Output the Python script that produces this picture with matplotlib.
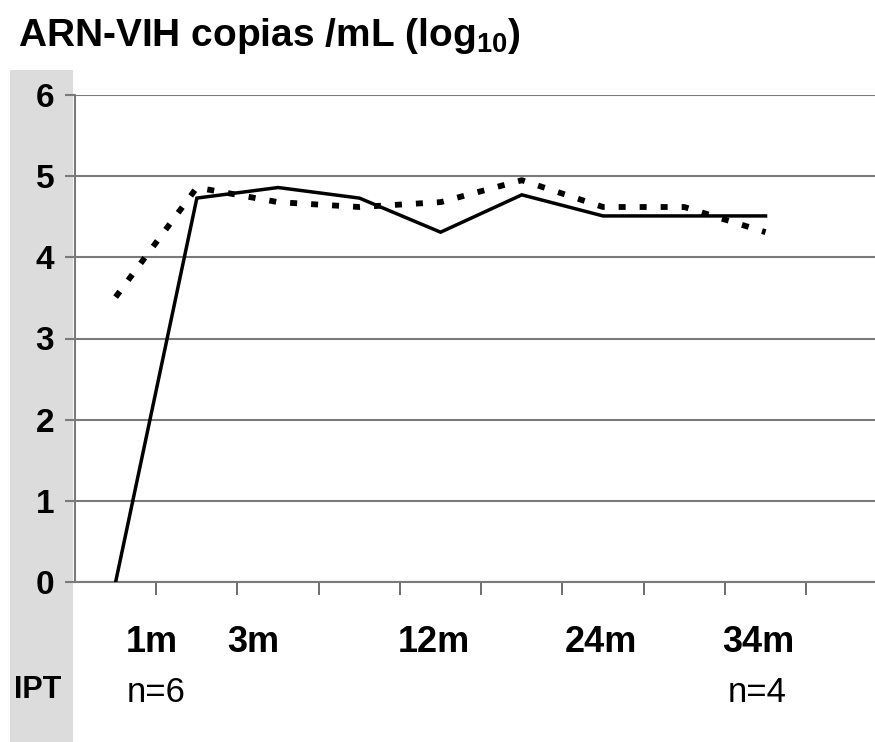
import matplotlib
matplotlib.use("Agg")
import matplotlib.pyplot as plt
import matplotlib.transforms as mtransforms
from matplotlib.patches import Rectangle

# values (log10 copies/mL)
positions = [0, 1, 2, 3, 4, 5, 6, 7, 8]
solid_vals = [0.0, 4.73, 4.86, 4.73, 4.31, 4.77, 4.51, 4.51, 4.51]
dotted_vals = [3.51, 4.86, 4.68, 4.62, 4.68, 4.95, 4.62, 4.62, 4.31]
yticks = [0, 1, 2, 3, 4, 5, 6]
month_labels = ["1m", "3m", "12m", "24m", "34m"]
month_x = [0.44, 1.69, 3.92, 5.97, 7.91]
n_labels = ["n=6", "n=4"]
n_x = [0.50, 7.90]

plt.rcParams["font.family"] = ["Liberation Sans", "DejaVu Sans"]
plt.rcParams["mathtext.fontset"] = "custom"
plt.rcParams["mathtext.rm"] = "Liberation Sans:bold"
plt.rcParams["mathtext.it"] = "Liberation Sans:bold"
plt.rcParams["mathtext.bf"] = "Liberation Sans:bold"

W, H = 875, 742
fig = plt.figure(figsize=(W / 100, H / 100), dpi=100)

# grey band on the left
fig.patches.append(Rectangle((10 / W, 0), 63 / W, (H - 70) / H,
                             transform=fig.transFigure, facecolor="#dcdcdc",
                             edgecolor="none", zorder=-5))

ax = fig.add_axes([75 / W, 1 - 582 / H, (W - 75) / W, (582 - 95) / H])
ax.set_facecolor("none")
ax.set_zorder(2)

ax.plot(positions, solid_vals, color="black", lw=2.5, zorder=3,
        solid_joinstyle="miter")
ax.plot(positions, dotted_vals, color="black", lw=4.2, zorder=3,
        linestyle=(0, (1.2, 2.4)), dash_capstyle="butt")

ax.set_xlim(-0.5, (W - 116) / 81.2)
ax.set_ylim(0, 6)
ax.set_yticks(yticks)
ax.set_yticklabels([str(v) for v in yticks], fontsize=24, fontweight="bold")
ax.set_xticks([p + 0.5 for p in positions])
ax.set_xticklabels([])
ax.grid(axis="y", color="#7a7a7a", lw=1.5, zorder=1)

for s in ["top", "right"]:
    ax.spines[s].set_visible(False)
for s in ["left", "bottom"]:
    ax.spines[s].set_color("#7a7a7a")
    ax.spines[s].set_linewidth(1.5)
ax.tick_params(axis="y", length=7, width=1.5, color="#7a7a7a", pad=8)
ax.tick_params(axis="x", length=9, width=1.2, color="#555555")

fig.text(18 / W, 1 - 46 / H, "ARN-VIH copias /mL (log$_{10}$)", fontsize=28,
         fontweight="bold", ha="left", va="baseline")

trans = mtransforms.blended_transform_factory(ax.transData, fig.transFigure)
for lab, x in zip(month_labels, month_x):
    ax.text(x, 1 - 642 / H, lab, transform=trans, fontsize=26, fontweight="bold",
            ha="center", va="center", clip_on=False)
for lab, x in zip(n_labels, n_x):
    ax.text(x, 1 - 692 / H, lab, transform=trans, fontsize=25,
            ha="center", va="center", clip_on=False)
fig.text(38 / W, 1 - 690 / H, "IPT", fontsize=22, fontweight="bold",
         ha="center", va="center")

fig.savefig("out.png", dpi=100)
